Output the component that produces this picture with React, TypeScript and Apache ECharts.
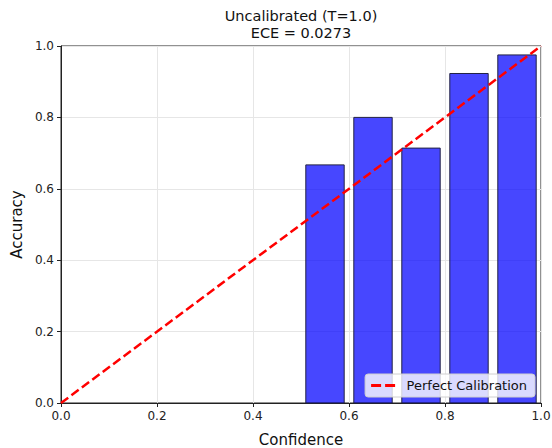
import React, { useEffect, useRef } from "react";
import * as echarts from "echarts";

const binCenters = [0.55, 0.65, 0.75, 0.85, 0.95];
const accuracies = [0.667, 0.8, 0.714, 0.923, 0.975];
const diagonal = [[0, 0], [1, 1]];
const titleLines = ["Uncalibrated (T=1.0)", "ECE = 0.0273"];
const barWidth = 0.08;

const FONT = "DejaVu Sans";

export default function App() {
  const ref = useRef<HTMLDivElement>(null);
  useEffect(() => {
    const chart = echarts.init(ref.current!, null, { renderer: "svg" });
    const axisCommon = {
      type: "value",
      min: 0,
      max: 1,
      interval: 0.2,
      axisLine: { show: true, onZero: false, lineStyle: { color: "#222", width: 1 } },
      axisTick: { show: true, inside: false, length: 4, lineStyle: { color: "#222" } },
      axisLabel: {
        color: "#222",
        fontFamily: FONT,
        fontSize: 12,
        margin: 7,
        formatter: (v: number) => v.toFixed(1),
      },
      splitLine: { show: true, lineStyle: { color: "#e6e6e6", width: 1 } },
      nameLocation: "middle",
      nameTextStyle: { fontFamily: FONT, fontSize: 15, color: "#111" },
    };
    chart.setOption({
      animation: false,
      backgroundColor: "#fff",
      graphic: [
        {
          type: "text",
          x: 301,
          y: 7,
          style: {
            text: titleLines.join("\n"),
            align: "center",
            verticalAlign: "top",
            fontFamily: FONT,
            fontSize: 14.5,
            lineHeight: 17.5,
            fill: "#111",
          },
        },
      ],
      grid: {
        left: 61,
        right: 11,
        top: 46,
        bottom: 45,
        outerBoundsMode: "none",
        show: true,
        borderColor: "#222",
        borderWidth: 1,
        backgroundColor: "transparent",
      },
      xAxis: { ...axisCommon, name: "Confidence", nameGap: 29 },
      yAxis: { ...axisCommon, name: "Accuracy", nameGap: 37 },
      legend: {
        data: [
          {
            name: "Perfect Calibration",
            icon: "path://M0,0 H10 V3 H0 Z M14,0 H24 V3 H14 Z",
          },
        ],
        right: 17,
        bottom: 51,
        backgroundColor: "rgba(255,255,255,0.8)",
        borderColor: "#d0d0d0",
        borderWidth: 1,
        borderRadius: 3,
        padding: [5, 8, 5, 6],
        itemWidth: 25,
        itemHeight: 3,
        itemGap: 10,
        itemStyle: { color: "#ff0000" },
        textStyle: { fontFamily: FONT, fontSize: 13, color: "#111", padding: [0, 0, 0, 6] },
      },
      series: [
        {
          type: "custom",
          name: "Accuracy",
          data: binCenters.map((c, i) => [c, accuracies[i]]),
          renderItem: (params: any, api: any) => {
            const c = api.value(0);
            const v = api.value(1);
            const p0 = api.coord([c - barWidth / 2, v]);
            const p1 = api.coord([c + barWidth / 2, 0]);
            return {
              type: "rect",
              shape: { x: p0[0], y: p0[1], width: p1[0] - p0[0], height: p1[1] - p0[1] },
              style: { fill: "rgba(0,0,255,0.72)", stroke: "#222244", lineWidth: 1 },
            };
          },
          z: 2,
        },
        {
          type: "line",
          name: "Perfect Calibration",
          data: diagonal,
          symbol: "none",
          lineStyle: { color: "#ff0000", width: 2.5, type: [9, 4] },
          itemStyle: { color: "#ff0000" },
          z: 3,
        },
      ],
    });
    return () => chart.dispose();
  }, []);
  return <div ref={ref} style={{ width: 552, height: 448, position: "absolute", left: 0, top: 0 }} />;
}
